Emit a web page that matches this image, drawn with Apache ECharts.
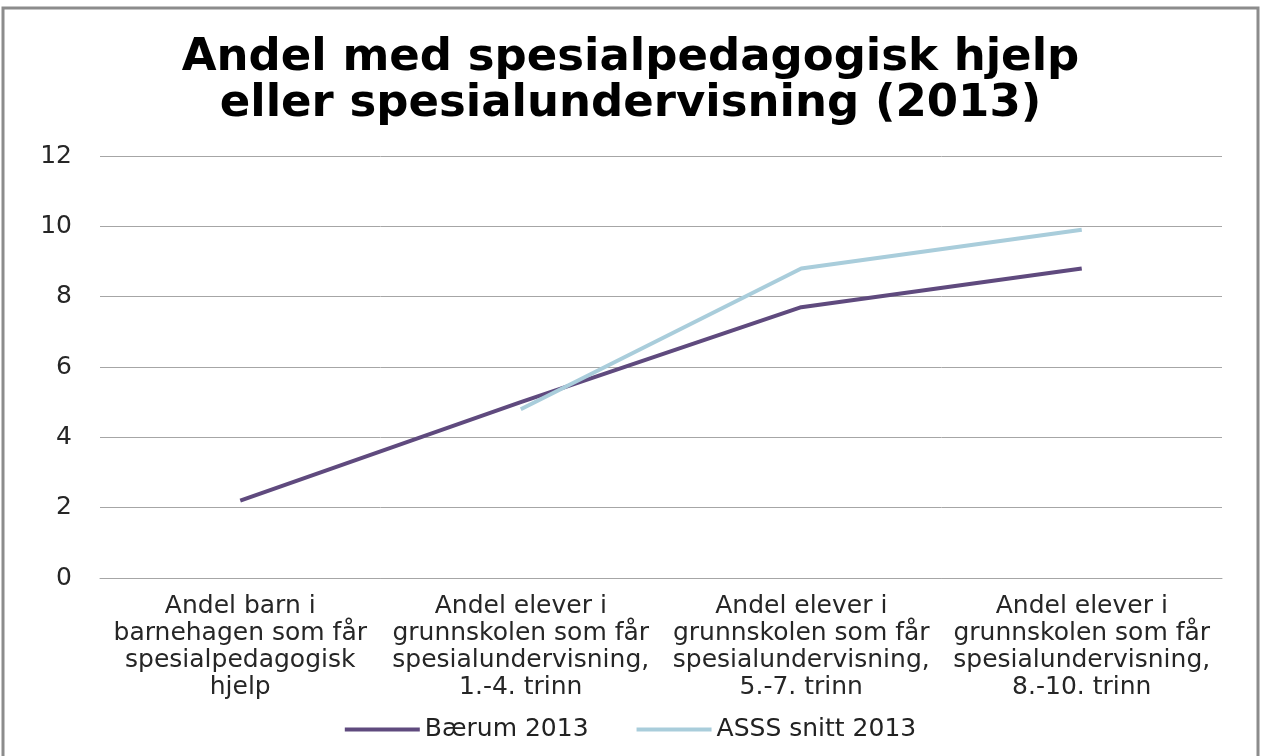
<!DOCTYPE html>
<html>
<head>
<meta charset="utf-8">
<script src="https://cdn.jsdelivr.net/npm/echarts@6/dist/echarts.min.js"></script>
<style>
  html, body { margin: 0; padding: 0; background: #fff; }
  #chart { width: 1261px; height: 756px; }
</style>
</head>
<body>
<div id="chart"></div>
<script>
const categories = [
  "Andel barn i\nbarnehagen som får\nspesialpedagogisk\nhjelp",
  "Andel elever i\ngrunnskolen som får\nspesialundervisning,\n1.-4. trinn",
  "Andel elever i\ngrunnskolen som får\nspesialundervisning,\n5.-7. trinn",
  "Andel elever i\ngrunnskolen som får\nspesialundervisning,\n8.-10. trinn"
];
const baerum = [2.2, 5.0, 7.7, 8.8];
const asss = [null, 4.8, 8.8, 9.9];
const seriesNames = ["Bærum 2013", "ASSS snitt 2013"];
const colors = ["#5f4a7e", "#a9cddb"];

const font = "DejaVu Sans";
let myChart = echarts.init(document.getElementById("chart"));

let option = {
  backgroundColor: "#fff",
  animation: false,
  title: {
    text: "Andel med spesialpedagogisk hjelp\neller spesialundervisning (2013)",
    left: "center",
    top: 30,
    textStyle: {
      fontFamily: font,
      fontWeight: "bold",
      fontSize: 45,
      lineHeight: 46,
      color: "#000",
    },
  },
  graphic: [
    {
      type: "rect",
      shape: { x: 3, y: 8, width: 1255, height: 800 },
      style: { fill: "none", stroke: "#8c8c8c", lineWidth: 3 },
      silent: true,
    },
  ],
  legend: {
    bottom: 9,
    left: "center",
    icon: "rect",
    itemWidth: 75,
    itemHeight: 4,
    itemGap: 48,
    textStyle: {
      fontFamily: font,
      fontSize: 25,
      color: "#222",
    },
    data: seriesNames,
  },
  grid: {
    left: 100,
    right: 39,
    top: 156,
    bottom: 178,
    containLabel: false,
  },
  xAxis: {
    type: "category",
    data: categories,
    boundaryGap: true,
    axisLine: { show: true, lineStyle: { color: "#a6a6a6", width: 1 } },
    axisTick: { show: false },
    axisLabel: {
      interval: 0,
      margin: 15,
      fontFamily: font,
      fontSize: 25,
      lineHeight: 27,
      color: "#262626",
      align: "center",
    },
  },
  yAxis: {
    type: "value",
    min: 0,
    max: 12,
    interval: 2,
    axisLine: { show: false },
    axisTick: { show: false },
    splitLine: { lineStyle: { color: "#a6a6a6", width: 1 } },
    axisLabel: {
      margin: 28,
      fontFamily: font,
      fontSize: 25,
      color: "#262626",
    },
  },
  series: [
    {
      name: seriesNames[0],
      type: "line",
      data: baerum,
      symbol: "none",
      itemStyle: { color: colors[0] },
      lineStyle: { color: colors[0], width: 4 },
    },
    {
      name: seriesNames[1],
      type: "line",
      data: asss,
      symbol: "none",
      itemStyle: { color: colors[1] },
      lineStyle: { color: colors[1], width: 4 },
    },
  ],
};
myChart.setOption(option);
</script>
</body>
</html>
